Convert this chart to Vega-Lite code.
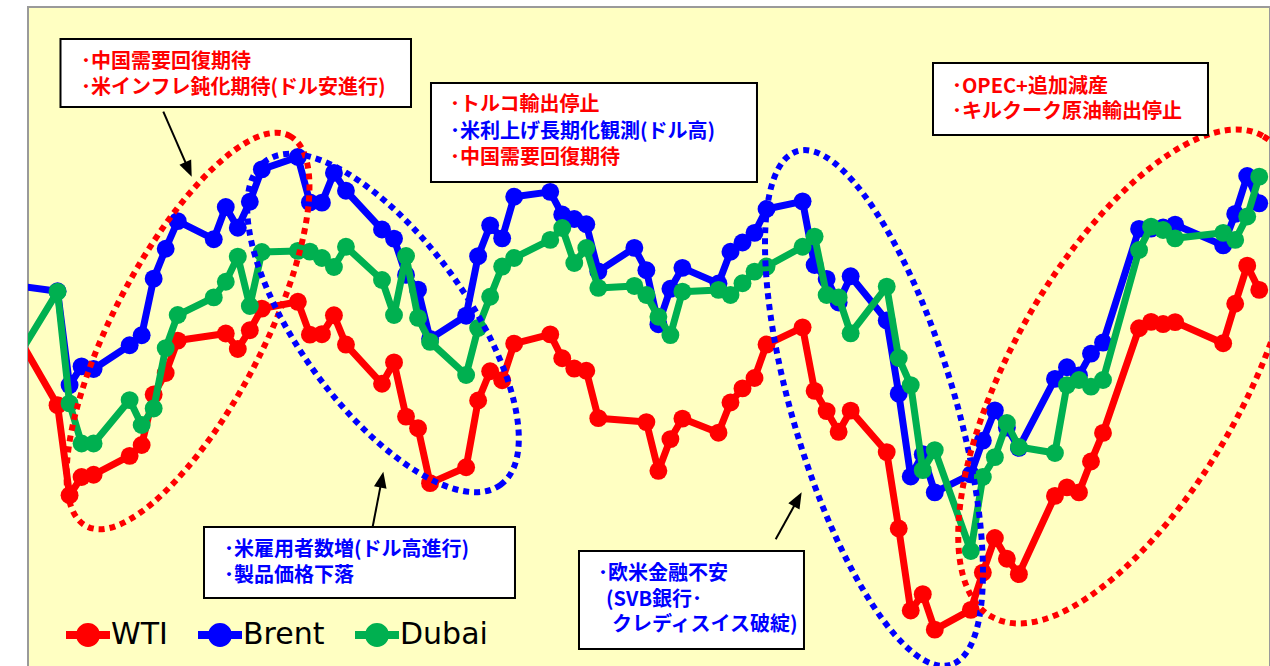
{
  "$schema": "https://vega.github.io/schema/vega-lite/v6.json",
  "width": 1242,
  "height": 661,
  "autosize": {"type": "none"},
  "padding": {"left": 28, "top": 7, "right": 0, "bottom": 0},
  "background": "white",
  "config": {
    "view": {"fill": "#FFFFC2", "stroke": "#9A9A9A", "strokeWidth": 2},
    "font": "DejaVu Sans"
  },
  "datasets": {
    "prices": [
      {"date": "2022-12-30", "WTI": 80.7, "Brent": 82.4, "Dubai": 78.5},
      {"date": "2023-01-03", "WTI": 76.93, "Brent": 82.10, "Dubai": 82.08},
      {"date": "2023-01-04", "WTI": 72.84, "Brent": 77.84, "Dubai": 77.01},
      {"date": "2023-01-05", "WTI": 73.67, "Brent": 78.69, "Dubai": 75.19},
      {"date": "2023-01-06", "WTI": 73.77, "Brent": 78.57, "Dubai": 75.19},
      {"date": "2023-01-09", "WTI": 74.63, "Brent": 79.65, "Dubai": 77.16},
      {"date": "2023-01-10", "WTI": 75.12, "Brent": 80.10, "Dubai": 76.03},
      {"date": "2023-01-11", "WTI": 77.41, "Brent": 82.67, "Dubai": 76.78},
      {"date": "2023-01-12", "WTI": 78.39, "Brent": 84.03, "Dubai": 79.52},
      {"date": "2023-01-13", "WTI": 79.86, "Brent": 85.28, "Dubai": 81.02},
      {"date": "2023-01-16", "WTI": null, "Brent": 84.46, "Dubai": 81.82},
      {"date": "2023-01-17", "WTI": 80.18, "Brent": 85.92, "Dubai": 82.53},
      {"date": "2023-01-18", "WTI": 79.48, "Brent": 84.98, "Dubai": 83.67},
      {"date": "2023-01-19", "WTI": 80.33, "Brent": 86.16, "Dubai": 81.43},
      {"date": "2023-01-20", "WTI": 81.31, "Brent": 87.63, "Dubai": 83.88},
      {"date": "2023-01-23", "WTI": 81.62, "Brent": 88.19, "Dubai": 83.93},
      {"date": "2023-01-24", "WTI": 80.13, "Brent": 86.13, "Dubai": 83.90},
      {"date": "2023-01-25", "WTI": 80.15, "Brent": 86.12, "Dubai": 83.61},
      {"date": "2023-01-26", "WTI": 81.01, "Brent": 87.47, "Dubai": 83.20},
      {"date": "2023-01-27", "WTI": 79.68, "Brent": 86.66, "Dubai": 84.12},
      {"date": "2023-01-30", "WTI": 77.90, "Brent": 84.90, "Dubai": 82.61},
      {"date": "2023-01-31", "WTI": 78.87, "Brent": 84.49, "Dubai": 81.02},
      {"date": "2023-02-01", "WTI": 76.41, "Brent": 82.84, "Dubai": 83.70},
      {"date": "2023-02-02", "WTI": 75.88, "Brent": 82.17, "Dubai": 80.89},
      {"date": "2023-02-03", "WTI": 73.39, "Brent": 79.94, "Dubai": 79.80},
      {"date": "2023-02-06", "WTI": 74.11, "Brent": 80.99, "Dubai": 78.30},
      {"date": "2023-02-07", "WTI": 77.14, "Brent": 83.69, "Dubai": 80.43},
      {"date": "2023-02-08", "WTI": 78.47, "Brent": 85.09, "Dubai": 81.85},
      {"date": "2023-02-09", "WTI": 78.06, "Brent": 84.50, "Dubai": 83.22},
      {"date": "2023-02-10", "WTI": 79.72, "Brent": 86.39, "Dubai": 83.61},
      {"date": "2023-02-13", "WTI": 80.14, "Brent": 86.61, "Dubai": 84.43},
      {"date": "2023-02-14", "WTI": 79.06, "Brent": 85.58, "Dubai": 84.97},
      {"date": "2023-02-15", "WTI": 78.59, "Brent": 85.38, "Dubai": 83.38},
      {"date": "2023-02-16", "WTI": 78.49, "Brent": 85.14, "Dubai": 84.06},
      {"date": "2023-02-17", "WTI": 76.34, "Brent": 83.00, "Dubai": 82.25},
      {"date": "2023-02-20", "WTI": null, "Brent": 84.07, "Dubai": 82.34},
      {"date": "2023-02-21", "WTI": 76.16, "Brent": 83.05, "Dubai": 81.93},
      {"date": "2023-02-22", "WTI": 73.95, "Brent": 80.60, "Dubai": 80.94},
      {"date": "2023-02-23", "WTI": 75.39, "Brent": 82.21, "Dubai": 80.11},
      {"date": "2023-02-24", "WTI": 76.32, "Brent": 83.16, "Dubai": 82.08},
      {"date": "2023-02-27", "WTI": 75.68, "Brent": 82.45, "Dubai": 82.16},
      {"date": "2023-02-28", "WTI": 77.05, "Brent": 83.89, "Dubai": 81.93},
      {"date": "2023-03-01", "WTI": 77.69, "Brent": 84.31, "Dubai": 82.46},
      {"date": "2023-03-02", "WTI": 78.16, "Brent": 84.75, "Dubai": 82.99},
      {"date": "2023-03-03", "WTI": 79.68, "Brent": 85.83, "Dubai": 83.22},
      {"date": "2023-03-06", "WTI": 80.46, "Brent": 86.18, "Dubai": 84.12},
      {"date": "2023-03-07", "WTI": 77.58, "Brent": 83.29, "Dubai": 84.58},
      {"date": "2023-03-08", "WTI": 76.66, "Brent": 82.66, "Dubai": 81.93},
      {"date": "2023-03-09", "WTI": 75.72, "Brent": 81.59, "Dubai": 81.82},
      {"date": "2023-03-10", "WTI": 76.68, "Brent": 82.78, "Dubai": 80.19},
      {"date": "2023-03-13", "WTI": 74.80, "Brent": 80.77, "Dubai": 82.31},
      {"date": "2023-03-14", "WTI": 71.33, "Brent": 77.45, "Dubai": 79.07},
      {"date": "2023-03-15", "WTI": 67.61, "Brent": 73.69, "Dubai": 77.84},
      {"date": "2023-03-16", "WTI": 68.35, "Brent": 74.70, "Dubai": 73.98},
      {"date": "2023-03-17", "WTI": 66.74, "Brent": 72.97, "Dubai": 74.89},
      {"date": "2023-03-20", "WTI": 67.64, "Brent": 73.79, "Dubai": 70.31},
      {"date": "2023-03-21", "WTI": 69.33, "Brent": 75.32, "Dubai": 73.67},
      {"date": "2023-03-22", "WTI": 70.90, "Brent": 76.69, "Dubai": 74.57},
      {"date": "2023-03-23", "WTI": 69.96, "Brent": 75.91, "Dubai": 76.12},
      {"date": "2023-03-24", "WTI": 69.26, "Brent": 74.99, "Dubai": 75.03},
      {"date": "2023-03-27", "WTI": 72.81, "Brent": 78.12, "Dubai": 74.76},
      {"date": "2023-03-28", "WTI": 73.20, "Brent": 78.65, "Dubai": 77.84},
      {"date": "2023-03-29", "WTI": 72.97, "Brent": 78.28, "Dubai": 78.07},
      {"date": "2023-03-30", "WTI": 74.37, "Brent": 79.27, "Dubai": 77.77},
      {"date": "2023-03-31", "WTI": 75.67, "Brent": 79.77, "Dubai": 78.07},
      {"date": "2023-04-03", "WTI": 80.42, "Brent": 84.93, "Dubai": 83.97},
      {"date": "2023-04-04", "WTI": 80.71, "Brent": 84.94, "Dubai": 85.03},
      {"date": "2023-04-05", "WTI": 80.61, "Brent": 84.99, "Dubai": 84.88},
      {"date": "2023-04-06", "WTI": 80.70, "Brent": 85.12, "Dubai": 84.50},
      {"date": "2023-04-10", "WTI": 79.74, "Brent": 84.18, "Dubai": 84.75},
      {"date": "2023-04-11", "WTI": 81.53, "Brent": 85.61, "Dubai": 84.43},
      {"date": "2023-04-12", "WTI": 83.26, "Brent": 87.33, "Dubai": 85.49},
      {"date": "2023-04-13", "WTI": 82.16, "Brent": 86.09, "Dubai": 87.30}
    ],
    "boxes": [
      {"t1": "2023-01-03T17:54:00Z", "t2": "2023-02-01T21:55:00Z", "p1": 93.548, "p2": 90.461},
      {"t1": "2023-02-03T13:51:00Z", "t2": "2023-03-02T16:55:00Z", "p1": 91.551, "p2": 87.057},
      {"t1": "2023-03-17T08:27:00Z", "t2": "2023-04-09T05:40:00Z", "p1": 92.458, "p2": 89.191},
      {"t1": "2023-01-15T16:31:00Z", "t2": "2023-02-10T13:36:00Z", "p1": 71.399, "p2": 68.177},
      {"t1": "2023-02-15T21:26:00Z", "t2": "2023-03-06T14:47:00Z", "p1": 70.310, "p2": 65.862}
    ],
    "notes": [
      {"t": "2023-01-05T10:51:00Z", "p": 92.504, "label": "･中国需要回復期待", "effect": "up"},
      {"t": "2023-01-05T10:51:00Z", "p": 91.324, "label": "･米インフレ鈍化期待(ドル安進行)", "effect": "up"},
      {"t": "2023-02-05T03:49:00Z", "p": 90.552, "label": "･トルコ輸出停止", "effect": "up"},
      {"t": "2023-02-05T03:49:00Z", "p": 89.327, "label": "･米利上げ長期化観測(ドル高)", "effect": "down"},
      {"t": "2023-02-05T03:49:00Z", "p": 88.147, "label": "･中国需要回復期待", "effect": "up"},
      {"t": "2023-03-18T22:19:00Z", "p": 91.369, "label": "･OPEC+追加減産", "effect": "up"},
      {"t": "2023-03-18T22:19:00Z", "p": 90.234, "label": "･キルクーク原油輸出停止", "effect": "up"},
      {"t": "2023-01-17T08:27:00Z", "p": 70.355, "label": "･米雇用者数増(ドル高進行)", "effect": "down"},
      {"t": "2023-01-17T08:27:00Z", "p": 69.153, "label": "･製品価格下落", "effect": "down"},
      {"t": "2023-02-17T11:24:00Z", "p": 69.266, "label": "･欧米金融不安", "effect": "down"},
      {"t": "2023-02-18T03:23:00Z", "p": 68.086, "label": "(SVB銀行･", "effect": "down"},
      {"t": "2023-02-18T15:22:00Z", "p": 66.951, "label": "クレディスイス破綻)", "effect": "down"}
    ],
    "arrows": [
      {"t1": "2023-01-12T07:13:00Z", "p1": 90.248, "t2": "2023-01-14T09:33:00Z", "p2": 87.629},
      {"t1": "2023-01-29T15:26:00Z", "p1": 71.186, "t2": "2023-01-30T11:35:00Z", "p2": 73.550},
      {"t1": "2023-03-04T06:17:00Z", "p1": 70.840, "t2": "2023-03-06T02:25:00Z", "p2": 72.656}
    ]
  },
  "layer": [
    {
      "data": {"name": "prices"},
      "transform": [
        {"fold": ["WTI", "Brent", "Dubai"], "as": ["series", "price"]},
        {"filter": "isValid(datum.price)"}
      ],
      "encoding": {
        "x": {
          "field": "date", "type": "temporal", "timeUnit": "utcyearmonthdate", "bandPosition": 0.5,
          "scale": {"type": "utc", "domain": [{"year": 2023, "month": 1, "date": 1, "hours": 1, "utc": true}, {"year": 2023, "month": 4, "date": 14, "hours": 9, "minutes": 30, "utc": true}]},
          "axis": {
            "title": null, "labels": false, "domain": false, "grid": false, "ticks": true,
            "tickSize": 11, "offset": -11, "tickColor": "#707070", "tickWidth": 1,
            "values": [{"year": 2023, "month": 2, "date": 1, "utc": true}, {"year": 2023, "month": 3, "date": 1, "utc": true}, {"year": 2023, "month": 4, "date": 1, "utc": true}]
          }
        },
        "y": {
          "field": "price", "type": "quantitative",
          "scale": {"domain": [65, 95], "zero": false, "nice": false},
          "axis": {
            "title": null, "labels": false, "domain": false, "grid": true, "gridColor": "#C6C3A0", "gridWidth": 1.5,
            "ticks": true, "tickSize": -10, "tickColor": "#A8A690", "tickWidth": 1.5, "values": [70, 75, 80, 85, 90]
          }
        },
        "color": {
          "field": "series", "type": "nominal",
          "scale": {"domain": ["WTI", "Brent", "Dubai"], "range": ["#FF0000", "#0000FF", "#00B050"]},
          "legend": {
            "title": null, "orient": "none", "legendX": 34, "legendY": 602, "direction": "horizontal",
            "symbolType": "M-1,0L1,0M0.36,0C0.36,0.1988 0.1988,0.36 0,0.36C-0.1988,0.36 -0.36,0.1988 -0.36,0C-0.36,-0.1988 -0.1988,-0.36 0,-0.36C0.1988,-0.36 0.36,-0.1988 0.36,0Z",
            "symbolSize": 1936, "symbolStrokeWidth": 8, "symbolOpacity": 1,
            "labelFont": "DejaVu Sans", "labelFontSize": 30, "labelColor": "#000000", "labelOffset": -3,
            "columnPadding": 14, "padding": 0,
            "encode": {"symbols": {"update": {"fill": {"scale": "color", "field": "value"}, "stroke": {"scale": "color", "field": "value"}, "opacity": {"value": 1}}}}
          }
        }
      },
      "layer": [
        {"transform": [{"filter": "datum.series === 'WTI'"}], "mark": {"type": "line", "strokeWidth": 7, "strokeJoin": "round", "clip": true}},
        {"transform": [{"filter": "datum.series === 'WTI'"}], "mark": {"type": "point", "filled": true, "size": 320, "opacity": 1, "clip": true}},
        {"transform": [{"filter": "datum.series === 'Brent'"}], "mark": {"type": "line", "strokeWidth": 7, "strokeJoin": "round", "clip": true}},
        {"transform": [{"filter": "datum.series === 'Brent'"}], "mark": {"type": "point", "filled": true, "size": 320, "opacity": 1, "clip": true}},
        {"transform": [{"filter": "datum.series === 'Dubai'"}], "mark": {"type": "line", "strokeWidth": 7, "strokeJoin": "round", "clip": true}},
        {"transform": [{"filter": "datum.series === 'Dubai'"}], "mark": {"type": "point", "filled": true, "size": 320, "opacity": 1, "clip": true}}
      ]
    },
    {
      "data": {"values": [{"t": "2023-01-14T08:33:00Z", "p": 80.295}]},
      "mark": {"type": "point", "shape": "M1,0C1,0.1883 0.5523,0.341 0,0.341C-0.5523,0.341 -1,0.1883 -1,0C-1,-0.1883 -0.5523,-0.341 0,-0.341C0.5523,-0.341 1,-0.1883 1,0Z", "size": 193600, "angle": 297.5, "filled": false, "stroke": "#FF0000", "strokeWidth": 6, "strokeDash": [6, 5], "opacity": 1, "clip": true},
      "encoding": {
        "x": {"field": "t", "type": "temporal", "scale": {"type": "utc"}, "axis": null},
        "y": {"field": "p", "type": "quantitative", "axis": null}
      }
    },
    {
      "data": {"values": [{"t": "2023-01-30T14:00:00Z", "p": 80.658}]},
      "mark": {"type": "point", "shape": "M1,0C1,0.232 0.5523,0.42 0,0.42C-0.5523,0.42 -1,0.232 -1,0C-1,-0.232 -0.5523,-0.42 0,-0.42C0.5523,-0.42 1,-0.232 1,0Z", "size": 160000, "angle": 54, "filled": false, "stroke": "#0000FF", "strokeWidth": 6, "strokeDash": [6, 5], "opacity": 1, "clip": true},
      "encoding": {
        "x": {"field": "t", "type": "temporal", "scale": {"type": "utc"}, "axis": null},
        "y": {"field": "p", "type": "quantitative", "axis": null}
      }
    },
    {
      "data": {"values": [{"t": "2023-03-12T10:34:00Z", "p": 76.8}]},
      "mark": {"type": "point", "shape": "M1,0C1,0.1668 0.5523,0.302 0,0.302C-0.5523,0.302 -1,0.1668 -1,0C-1,-0.1668 -0.5523,-0.302 0,-0.302C0.5523,-0.302 1,-0.1668 1,0Z", "size": 287296, "angle": 73.4, "filled": false, "stroke": "#0000FF", "strokeWidth": 6, "strokeDash": [6, 5], "opacity": 1, "clip": true},
      "encoding": {
        "x": {"field": "t", "type": "temporal", "scale": {"type": "utc"}, "axis": null},
        "y": {"field": "p", "type": "quantitative", "axis": null}
      }
    },
    {
      "data": {"values": [{"t": "2023-04-02T12:53:00Z", "p": 78.23}]},
      "mark": {"type": "point", "shape": "M1,0C1,0.232 0.5523,0.42 0,0.42C-0.5523,0.42 -1,0.232 -1,0C-1,-0.232 -0.5523,-0.42 0,-0.42C0.5523,-0.42 1,-0.232 1,0Z", "size": 304704, "angle": 299.5, "filled": false, "stroke": "#FF0000", "strokeWidth": 6, "strokeDash": [6, 5], "opacity": 1, "clip": true},
      "encoding": {
        "x": {"field": "t", "type": "temporal", "scale": {"type": "utc"}, "axis": null},
        "y": {"field": "p", "type": "quantitative", "axis": null}
      }
    },
    {
      "data": {"name": "arrows"},
      "mark": {"type": "rule", "color": "#000000", "strokeWidth": 2},
      "encoding": {
        "x": {"field": "t1", "type": "temporal", "scale": {"type": "utc"}, "axis": null},
        "x2": {"field": "t2"},
        "y": {"field": "p1", "type": "quantitative", "axis": null},
        "y2": {"field": "p2"}
      }
    },
    {
      "data": {"values": [{"t": "2023-01-14T09:33:00Z", "p": 87.629}]},
      "mark": {"type": "point", "shape": "M0,-1L-0.8,1L0.8,1Z", "size": 256, "angle": 156.4, "filled": true, "fill": "#000000", "opacity": 1},
      "encoding": {
        "x": {"field": "t", "type": "temporal", "scale": {"type": "utc"}, "axis": null},
        "y": {"field": "p", "type": "quantitative", "axis": null}
      }
    },
    {
      "data": {"values": [{"t": "2023-01-30T11:35:00Z", "p": 73.55}]},
      "mark": {"type": "point", "shape": "M0,-1L-0.8,1L0.8,1Z", "size": 256, "angle": 10.95, "filled": true, "fill": "#000000", "opacity": 1},
      "encoding": {
        "x": {"field": "t", "type": "temporal", "scale": {"type": "utc"}, "axis": null},
        "y": {"field": "p", "type": "quantitative", "axis": null}
      }
    },
    {
      "data": {"values": [{"t": "2023-03-06T02:25:00Z", "p": 72.656}]},
      "mark": {"type": "point", "shape": "M0,-1L-0.8,1L0.8,1Z", "size": 256, "angle": 28.96, "filled": true, "fill": "#000000", "opacity": 1},
      "encoding": {
        "x": {"field": "t", "type": "temporal", "scale": {"type": "utc"}, "axis": null},
        "y": {"field": "p", "type": "quantitative", "axis": null}
      }
    },
    {
      "data": {"name": "boxes"},
      "mark": {"type": "rect", "fill": "#FFFFFF", "stroke": "#000000", "strokeWidth": 2},
      "encoding": {
        "x": {"field": "t1", "type": "temporal", "scale": {"type": "utc"}, "axis": null},
        "x2": {"field": "t2"},
        "y": {"field": "p1", "type": "quantitative", "axis": null},
        "y2": {"field": "p2"}
      }
    },
    {
      "data": {"name": "notes"},
      "mark": {"type": "text", "align": "left", "baseline": "middle", "font": "Noto Sans CJK JP", "fontWeight": "bold", "fontSize": 20},
      "encoding": {
        "x": {"field": "t", "type": "temporal", "scale": {"type": "utc"}, "axis": null},
        "y": {"field": "p", "type": "quantitative", "axis": null},
        "text": {"field": "label"},
        "fill": {"field": "effect", "type": "nominal", "scale": {"domain": ["up", "down"], "range": ["#FF0000", "#0000FF"]}, "legend": null}
      }
    }
  ]
}
